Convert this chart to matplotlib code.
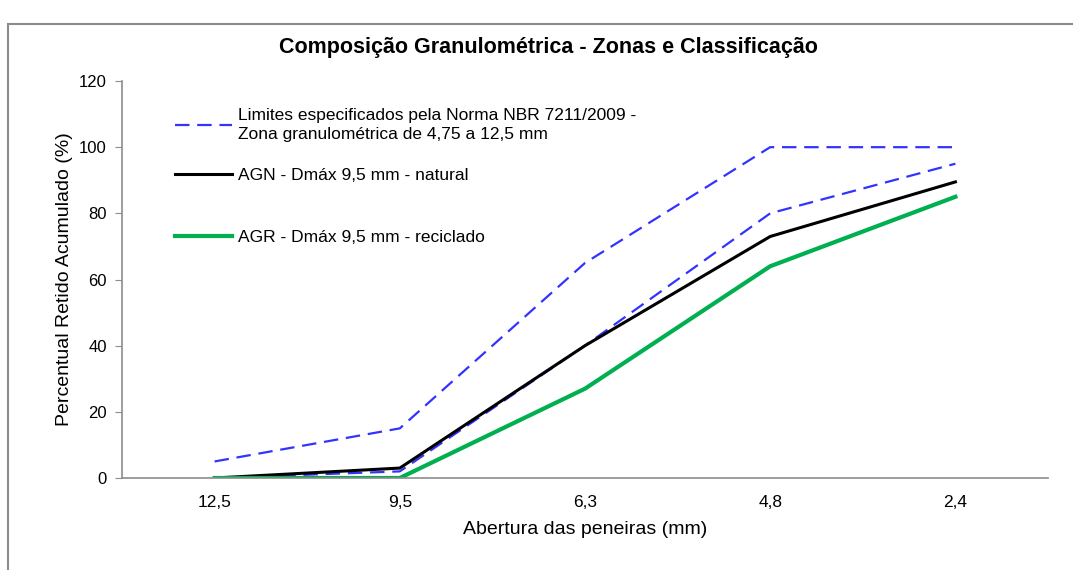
import matplotlib.pyplot as plt
from matplotlib.patches import Rectangle

plt.rcParams['font.family'] = ['Liberation Sans', 'DejaVu Sans']

peneiras = ['12,5', '9,5', '6,3', '4,8', '2,4']
limite_sup = [5, 15, 65, 100, 100]
limite_inf = [0, 2, 40, 80, 95]
agn = [0, 3, 40, 73, 89.5]
agr = [0, 0, 27, 64, 85]

x = list(range(len(peneiras)))

fig = plt.figure(figsize=(10.73, 5.70), dpi=100)
ax = fig.add_axes([122 / 1073, 1 - 478 / 570, (1048 - 122) / 1073, (478 - 81) / 570])

# moldura do gráfico (cortada na direita e embaixo)
fig.patches.append(Rectangle((8 / 1073, -0.1), 1.2, 1 - 24 / 570 + 0.1,
                             transform=fig.transFigure, fill=False,
                             edgecolor='#8c8c8c', linewidth=1.5))

blue = '#3333ff'
l_sup, = ax.plot(x, limite_sup, color=blue, linestyle=(0, (6.5, 3.5)), linewidth=1.6,
                 label='Limites especificados pela Norma NBR 7211/2009 -\nZona granulométrica de 4,75 a 12,5 mm')
ax.plot(x, limite_inf, color=blue, linestyle=(0, (6.5, 3.5)), linewidth=1.6)
l_agn, = ax.plot(x, agn, color='black', linewidth=2.2, label='AGN - Dmáx 9,5 mm - natural')
l_agr, = ax.plot(x, agr, color='#00b050', linewidth=3, label='AGR - Dmáx 9,5 mm - reciclado')

ax.set_xlim(-0.5, 4.5)
ax.set_ylim(0, 120)
ax.set_yticks(range(0, 121, 20))
ax.set_xticks(x)
ax.set_xticklabels(peneiras)
ax.tick_params(axis='x', length=0, pad=12, labelsize=12.5)
ax.tick_params(axis='y', length=5, color='#8c8c8c', labelsize=12, pad=6)
for s in ['top', 'right']:
    ax.spines[s].set_visible(False)
for s in ['left', 'bottom']:
    ax.spines[s].set_color('#8c8c8c')
    ax.spines[s].set_linewidth(1.2)

ax.set_xlabel('Abertura das peneiras (mm)', fontsize=14, labelpad=8)
ax.set_ylabel('Percentual Retido Acumulado (%)', fontsize=14, labelpad=4)
fig.text(548 / 1073, 1 - 48 / 570, 'Composição Granulométrica - Zonas e Classificação',
         ha='center', va='center', fontsize=15.5, fontweight='bold')

# legenda em três blocos, como no original
centros = [0.889, 0.763, 0.607]
for i, (h, yc) in enumerate(zip([l_sup, l_agn, l_agr], centros)):
    leg = ax.legend(handles=[h], loc='center left', bbox_to_anchor=(0.04, yc),
                    frameon=False, fontsize=12.5, handlelength=3.3,
                    handletextpad=0.35)
    for t in leg.get_texts():
        t.set_linespacing(1.35)
    if i < 2:
        ax.add_artist(leg)

fig.savefig('out.png', dpi=100)
